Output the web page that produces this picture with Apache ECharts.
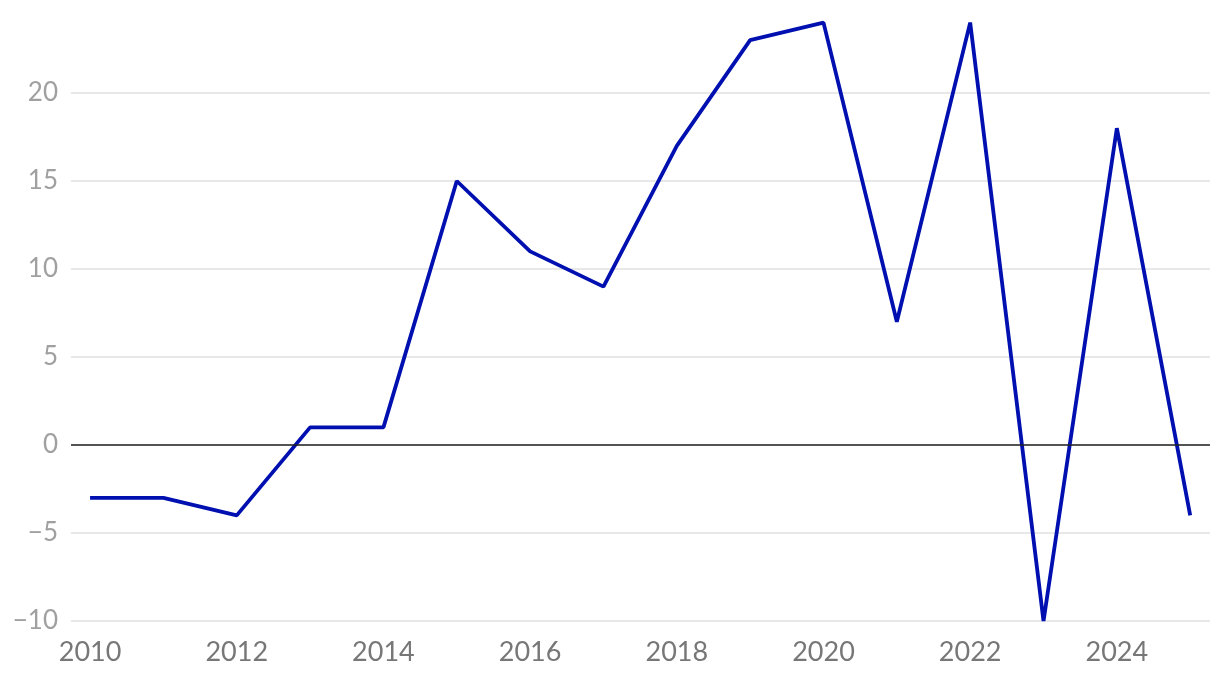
<!DOCTYPE html>
<html><head><meta charset="utf-8">
<script src="https://cdn.jsdelivr.net/npm/echarts@6/dist/echarts.min.js"></script>
<style>html,body{margin:0;padding:0;background:#fff}#c{width:1220px;height:678px}</style>
</head><body><div id="c"></div>
<script>
const years = [2010,2011,2012,2013,2014,2015,2016,2017,2018,2019,2020,2021,2022,2023,2024,2025];
const values = [-3,-3,-4,1,1,15,11,9,17,23,24,7,24,-10,18,-4];
const xTickLabels = [2010,2012,2014,2016,2018,2020,2022,2024];
const yTicks = [-10,-5,0,5,10,15,20];

const chart = echarts.init(document.getElementById('c'), null, {renderer:'canvas'});
chart.setOption({
  animation:false,
  grid:{left:71, right:10, top:5, bottom:57, containLabel:false},
  xAxis:{
    type:'value', min:2009.74, max:2025.27,
    axisLine:{show:false}, axisTick:{show:false}, splitLine:{show:false},
    axisLabel:{customValues:xTickLabels, color:'#777777', fontFamily:'Lato', fontSize:27, margin:18, formatter:v=>String(v)}
  },
  yAxis:{
    type:'value', min:-10, max:25, interval:5,
    axisLine:{show:false}, axisTick:{show:false},
    splitLine:{show:true, showMaxLine:false, lineStyle:{color:'#e0e0e0', width:1.5}},
    axisLabel:{showMaxLabel:false, color:'#a0a0a0', fontFamily:'Lato', fontSize:26, margin:13,
      formatter:v=> v<0 ? '\u2212'+Math.abs(v) : String(v)}
  },
  series:[{
    type:'line', data:years.map((y,i)=>[y,values[i]]), symbol:'none',
    lineStyle:{color:'#0010b0', width:3.8}, clip:false,
    markLine:{silent:true, symbol:'none', label:{show:false}, lineStyle:{color:'#222', width:1.5, type:'solid'}, data:[{yAxis:0}]},
    z:3
  }]
});
</script></body></html>
